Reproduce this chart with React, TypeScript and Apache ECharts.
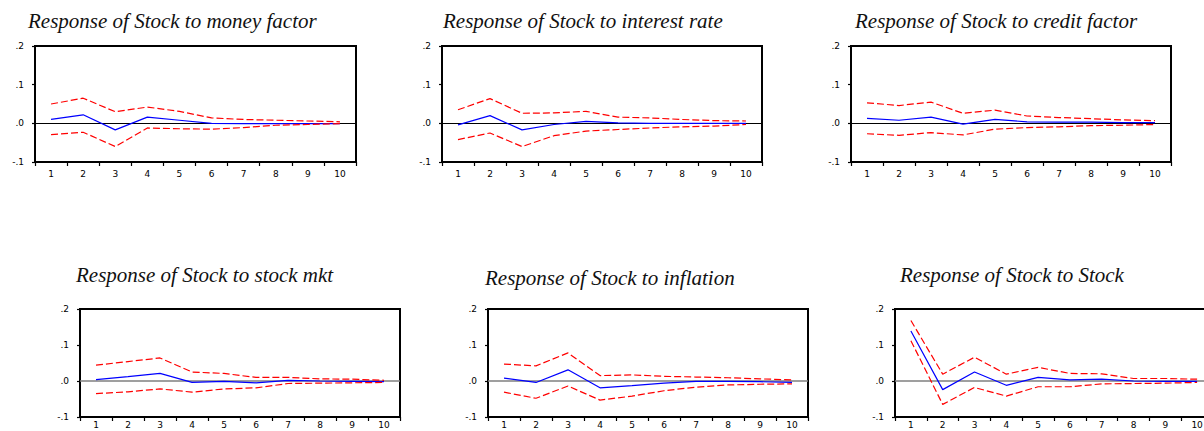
import React, { useEffect, useRef } from "react";
import * as echarts from "echarts";

const periods = ["1", "2", "3", "4", "5", "6", "7", "8", "9", "10"];
const yTickLabels = [".2", ".1", ".0", "-.1"];

const titles = [
  "Response of Stock to money factor",
  "Response of Stock to interest rate",
  "Response of Stock to credit factor",
  "Response of Stock to stock mkt",
  "Response of Stock to inflation",
  "Response of Stock to Stock",
];

// money factor
const moneyIrf = [0.010, 0.022, -0.017, 0.016, 0.008, 0.000, -0.001, -0.001, -0.001, -0.001];
const moneyUpper = [0.050, 0.065, 0.030, 0.042, 0.031, 0.014, 0.010, 0.008, 0.006, 0.004];
const moneyLower = [-0.029, -0.023, -0.060, -0.012, -0.014, -0.015, -0.011, -0.005, -0.003, -0.001];

// interest rate
const rateIrf = [-0.004, 0.020, -0.017, -0.003, 0.005, 0.001, 0.000, 0.000, 0.000, 0.000];
const rateUpper = [0.035, 0.064, 0.026, 0.027, 0.031, 0.016, 0.014, 0.010, 0.007, 0.006];
const rateLower = [-0.042, -0.025, -0.060, -0.032, -0.020, -0.016, -0.012, -0.009, -0.007, -0.003];

// credit factor
const creditIrf = [0.013, 0.008, 0.016, -0.002, 0.010, 0.004, 0.003, 0.003, 0.002, 0.002];
const creditUpper = [0.053, 0.046, 0.055, 0.026, 0.034, 0.019, 0.015, 0.012, 0.009, 0.007];
const creditLower = [-0.027, -0.031, -0.024, -0.030, -0.015, -0.011, -0.009, -0.006, -0.005, -0.003];

// stock mkt
const mktIrf = [0.004, 0.012, 0.021, -0.004, -0.001, -0.005, 0.002, 0.000, -0.001, -0.002];
const mktUpper = [0.044, 0.054, 0.064, 0.025, 0.021, 0.010, 0.010, 0.006, 0.005, 0.002];
const mktLower = [-0.035, -0.030, -0.022, -0.031, -0.022, -0.019, -0.007, -0.006, -0.005, -0.004];

// inflation
const inflIrf = [0.008, -0.004, 0.031, -0.019, -0.013, -0.006, -0.001, -0.001, -0.002, -0.004];
const inflUpper = [0.047, 0.042, 0.078, 0.015, 0.017, 0.013, 0.011, 0.009, 0.006, 0.003];
const inflLower = [-0.031, -0.048, -0.014, -0.053, -0.042, -0.027, -0.017, -0.011, -0.009, -0.008];

// Stock
const stockIrf = [0.139, -0.024, 0.025, -0.012, 0.010, 0.003, 0.005, 0.000, -0.001, -0.001];
const stockUpper = [0.168, 0.019, 0.066, 0.019, 0.038, 0.021, 0.020, 0.007, 0.007, 0.005];
const stockLower = [0.112, -0.065, -0.018, -0.042, -0.016, -0.016, -0.008, -0.007, -0.006, -0.004];

const panelData = [
  [moneyIrf, moneyUpper, moneyLower],
  [rateIrf, rateUpper, rateLower],
  [creditIrf, creditUpper, creditLower],
  [mktIrf, mktUpper, mktLower],
  [inflIrf, inflUpper, inflLower],
  [stockIrf, stockUpper, stockLower],
];

// layout (pixels)
const grids = [
  { left: 35, top: 46, width: 321, height: 116 },
  { left: 442, top: 46, width: 320, height: 116 },
  { left: 851, top: 46, width: 320, height: 116 },
  { left: 80, top: 309, width: 320, height: 108 },
  { left: 488, top: 309, width: 320, height: 108 },
  { left: 895, top: 309, width: 318, height: 108 },
];
const xLabelMargins = [7, 7, 7, 3, 3, 3];
const titlePos = [
  { left: 28, top: 10 },
  { left: 443, top: 10 },
  { left: 855, top: 10 },
  { left: 76, top: 264 },
  { left: 485, top: 267 },
  { left: 900, top: 264 },
];

const yLabel = (v: number) => {
  const r = Math.round(v * 10);
  const map: Record<string, string> = { "2": yTickLabels[0], "1": yTickLabels[1], "0": yTickLabels[2], "-1": yTickLabels[3] };
  return map[String(r)] ?? "";
};

export default function App() {
  const ref = useRef<HTMLDivElement>(null);
  useEffect(() => {
    if (!ref.current) return;
    const chart = echarts.init(ref.current, undefined, { renderer: "svg" });
    const series: any[] = [];
    panelData.forEach((d, i) => {
      const zeroColor = i < 3 ? "#000000" : "#7f7f7f";
      const zeroWidth = i < 3 ? 1.2 : 1.6;
      series.push({
        type: "line",
        xAxisIndex: i,
        yAxisIndex: i,
        data: d[0],
        symbol: "none",
        lineStyle: { color: "#0000ff", width: 1.2 },
        z: 3,
        markLine: {
          silent: true,
          symbol: "none",
          label: { show: false },
          lineStyle: { color: zeroColor, width: zeroWidth, type: "solid" },
          data: [{ yAxis: 0 }],
          z: 2,
        },
      });
      series.push({
        type: "line",
        xAxisIndex: i,
        yAxisIndex: i,
        data: d[1],
        symbol: "none",
        lineStyle: { color: "#ff0000", width: 1.2, type: [7, 3] },
        z: 4,
      });
      series.push({
        type: "line",
        xAxisIndex: i,
        yAxisIndex: i,
        data: d[2],
        symbol: "none",
        lineStyle: { color: "#ff0000", width: 1.2, type: [7, 3] },
        z: 4,
      });
    });

    chart.setOption({
      animation: false,
      backgroundColor: "#ffffff",
      title: titles.map((t, i) => ({
        text: t,
        left: titlePos[i].left,
        top: titlePos[i].top,
        padding: 0,
        textStyle: {
          fontFamily: "Liberation Serif",
          fontStyle: "italic",
          fontWeight: "normal",
          fontSize: 21,
          color: "#111111",
        },
      })),
      grid: grids.map((g) => ({
        ...g,
        show: true,
        borderColor: "#000000",
        borderWidth: 2,
        backgroundColor: "transparent",
        containLabel: false,
        outerBoundsMode: "none",
      })),
      xAxis: grids.map((_, i) => ({
        type: "category",
        gridIndex: i,
        data: periods,
        boundaryGap: true,
        axisLine: { show: true, onZero: false, lineStyle: { color: "#000000", width: 2 } },
        axisTick: { show: true, interval: 0, length: 4, lineStyle: { color: "#000000", width: 1.2 } },
        axisLabel: {
          interval: 0,
          margin: xLabelMargins[i],
          fontFamily: "DejaVu Sans",
          fontSize: 9,
          color: "#000000",
        },
        splitLine: { show: false },
      })),
      yAxis: grids.map((_, i) => ({
        type: "value",
        gridIndex: i,
        min: -0.1,
        max: 0.2,
        interval: 0.1,
        axisLine: { show: true, lineStyle: { color: "#000000", width: 2 } },
        axisTick: { show: true, length: 3, lineStyle: { color: "#000000", width: 1.2 } },
        axisLabel: {
          margin: 11,
          fontFamily: "DejaVu Sans",
          fontSize: 9,
          color: "#000000",
          formatter: yLabel,
        },
        splitLine: { show: false },
      })),
      series,
    });
    return () => chart.dispose();
  }, []);
  return (
    <div
      ref={ref}
      style={{ position: "absolute", left: 0, top: 0, width: 1204, height: 431 }}
    />
  );
}
